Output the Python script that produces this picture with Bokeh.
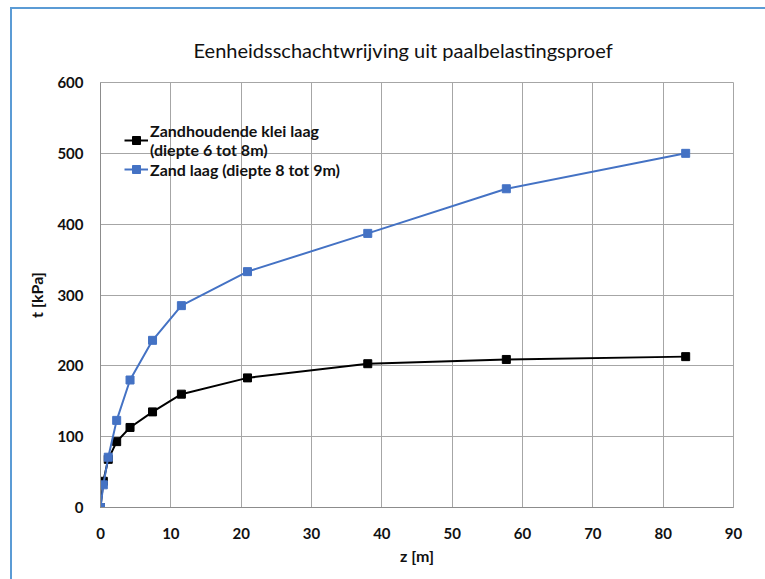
from bokeh.plotting import figure
from bokeh.models import Legend, LegendItem, FixedTicker, Range1d
from bokeh.embed import file_html
from bokeh.resources import INLINE

# Unit shaft friction from the pile load test
z_m = [0, 0.4, 1.1, 2.3, 4.2, 7.4, 11.5, 20.9, 38.0, 57.7, 83.2]
t_klei = [0, 37, 68, 93, 113, 135, 160, 183, 203, 209, 213]
t_zand = [0, 32, 71, 123, 180, 236, 285, 333, 387, 450, 500]

x_ticks = [0, 10, 20, 30, 40, 50, 60, 70, 80, 90]
y_ticks = [0, 100, 200, 300, 400, 500, 600]

label_klei = "Zandhoudende klei laag\n(diepte 6 tot 8m)"
label_zand = "Zand laag (diepte 8 tot 9m)"

FONT = "Lato"
BLUE = "#4472C4"
GRID = "#A6A6A6"

p = figure(
    width=755, height=572,
    x_range=Range1d(0, 90), y_range=Range1d(0, 600),
    output_backend="svg", toolbar_location=None,
    min_border_left=88, min_border_right=34,
    min_border_top=73, min_border_bottom=74,
    margin=(7, 0, 0, 10),
)
p.styles = {"border-left": "2px solid #5B9BD5", "border-top": "2px solid #5B9BD5"}

p.title.text = "Eenheidsschachtwrijving  uit paalbelastingsproef"
p.title.align = "left"
p.title.offset = 93
p.title.text_font = FONT
p.title.text_font_size = "20px"
p.title.text_font_style = "normal"
p.title.text_color = "#111111"
p.title.standoff = 42

p.outline_line_color = GRID
p.background_fill_color = "white"
p.border_fill_color = "white"

for ax in (p.xaxis[0], p.yaxis[0]):
    ax.axis_line_color = "#8C8C8C"
    ax.major_tick_line_color = None
    ax.minor_tick_line_color = None
    ax.major_label_text_font = FONT
    ax.major_label_text_font_style = "bold"
    ax.major_label_text_font_size = "15px"
    ax.major_label_text_color = "#111111"
    ax.axis_label_text_font = FONT
    ax.axis_label_text_font_style = "bold"
    ax.axis_label_text_font_size = "16px"
    ax.axis_label_text_color = "#111111"

p.xaxis.ticker = FixedTicker(ticks=x_ticks)
p.yaxis.ticker = FixedTicker(ticks=y_ticks)
p.xaxis.axis_label = "z [m]"
p.yaxis.axis_label = "t [kPa]"
p.xaxis.major_label_standoff = 14
p.yaxis.major_label_standoff = 11
p.xaxis.axis_label_standoff = 4
p.yaxis.axis_label_standoff = 8

p.xgrid.ticker = FixedTicker(ticks=x_ticks)
p.ygrid.ticker = FixedTicker(ticks=y_ticks)
p.xgrid.grid_line_color = GRID
p.ygrid.grid_line_color = GRID

l1 = p.line(z_m, t_klei, line_color="black", line_width=2)
m1 = p.scatter(z_m, t_klei, marker="square", size=8, fill_color="black", line_color="black")
l2 = p.line(z_m, t_zand, line_color=BLUE, line_width=2)
m2 = p.scatter(z_m, t_zand, marker="square", size=8, fill_color=BLUE, line_color=BLUE)

legend = Legend(
    items=[LegendItem(label=label_klei, renderers=[l1, m1]),
           LegendItem(label=label_zand, renderers=[l2, m2])],
    location=(24, 328),
    border_line_color=None,
    background_fill_alpha=0,
    label_text_font=FONT,
    label_text_font_style="bold",
    label_text_font_size="16px",
    label_text_color="#111111",
    glyph_width=24,
    label_standoff=2,
    spacing=0,
    padding=4,
)
p.add_layout(legend)

open("out.html", "w").write(file_html(p, INLINE))
